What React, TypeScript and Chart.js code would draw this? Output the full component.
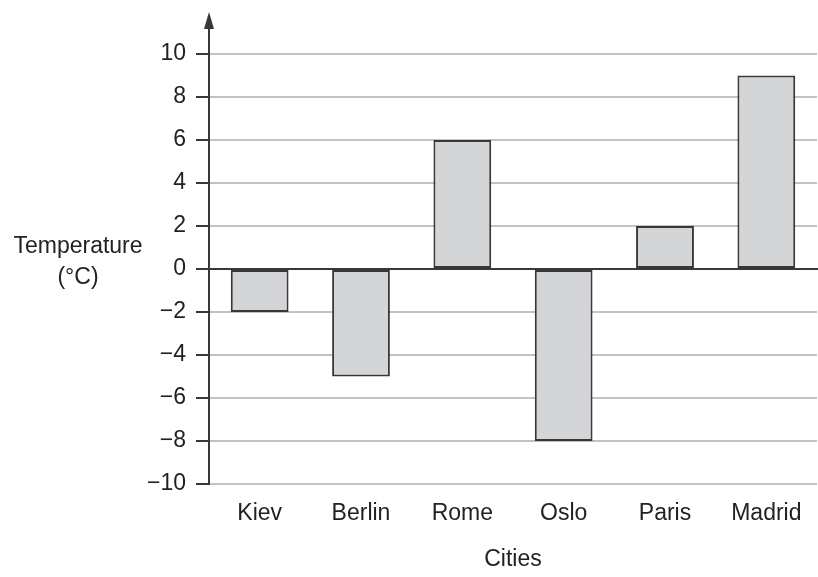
import React, { useEffect, useRef } from 'react';
import { Chart, registerables } from 'chart.js';

Chart.register(...registerables);

const cities = ['Kiev', 'Berlin', 'Rome', 'Oslo', 'Paris', 'Madrid'];
const temperatures = [-2, -5, 6, -8, 2, 9];
const yTicks = [-10, -8, -6, -4, -2, 0, 2, 4, 6, 8, 10];

const FONT = '"Liberation Sans", Arial, Helvetica, sans-serif';
const TEXT = '#222';
const AXIS = '#383838';

// arrow on y axis, zero line on top of bars, and the free-standing titles
const decorations = {
  id: 'decorations',
  afterDraw(chart: any) {
    const { ctx, chartArea } = chart;
    const x = chartArea.left;
    const y0 = chart.scales.y.getPixelForValue(0);
    ctx.save();
    ctx.strokeStyle = AXIS;
    ctx.fillStyle = AXIS;
    ctx.lineWidth = 2;
    ctx.beginPath();
    ctx.moveTo(x, y0);
    ctx.lineTo(chartArea.right + 2, y0);
    ctx.stroke();
    ctx.beginPath();
    ctx.moveTo(x, chartArea.top);
    ctx.lineTo(x, 24);
    ctx.stroke();
    ctx.beginPath();
    ctx.moveTo(x, 12);
    ctx.lineTo(x - 5, 29);
    ctx.lineTo(x + 5, 29);
    ctx.closePath();
    ctx.fill();

    ctx.fillStyle = TEXT;
    ctx.font = `23px ${FONT}`;
    ctx.textAlign = 'center';
    ctx.textBaseline = 'middle';
    ctx.fillText('Temperature', 78, 247);
    ctx.fillText('(°C)', 78, 278);
    ctx.fillText('Cities', (chartArea.left + chartArea.right) / 2, 560);
    ctx.restore();
  },
};

const TemperatureChart: React.FC = () => {
  const chartRef = useRef<HTMLCanvasElement>(null);

  useEffect(() => {
    if (!chartRef.current) return;

    const chart = new Chart(chartRef.current, {
      type: 'bar',
      data: {
        labels: cities,
        datasets: [
          {
            data: temperatures,
            backgroundColor: '#d3d5d6',
            borderColor: AXIS,
            borderWidth: 2,
            borderSkipped: false,
            barPercentage: 0.57,
            categoryPercentage: 1,
          },
        ],
      },
      options: {
        animation: false,
        responsive: true,
        maintainAspectRatio: false,
        layout: { padding: { top: 54, right: 1, left: 0, bottom: 0 } },
        plugins: {
          legend: { display: false },
          tooltip: { enabled: false },
        },
        scales: {
          x: {
            grid: { display: false, drawTicks: false },
            border: { display: false },
            ticks: {
              color: TEXT,
              padding: 16,
              font: { size: 23, family: FONT },
              maxRotation: 0,
            },
            afterFit: (scale: any) => {
              scale.height = 93;
            },
          },
          y: {
            min: -10,
            max: 10,
            afterBuildTicks: (scale: any) => {
              scale.ticks = yTicks.map((v) => ({ value: v }));
            },
            grid: {
              color: (c: any) => (c.tick && c.tick.value === 0 ? AXIS : '#c2c2c2'),
              lineWidth: 2,
              tickColor: AXIS,
              tickLength: 13,
            },
            border: { display: true, color: AXIS, width: 2 },
            ticks: {
              color: TEXT,
              padding: 10,
              font: { size: 23, family: FONT },
              callback: (v: any) => String(v).replace('-', '\u2212'),
            },
            afterFit: (scale: any) => {
              scale.width = 209;
            },
          },
        },
      },
      plugins: [decorations],
    });

    return () => chart.destroy();
  }, []);

  return (
    <div style={{ position: 'fixed', left: 0, top: 0, width: 818, height: 577, background: '#fff' }}>
      <canvas ref={chartRef}></canvas>
    </div>
  );
};

export default function App() {
  return <TemperatureChart />;
}
